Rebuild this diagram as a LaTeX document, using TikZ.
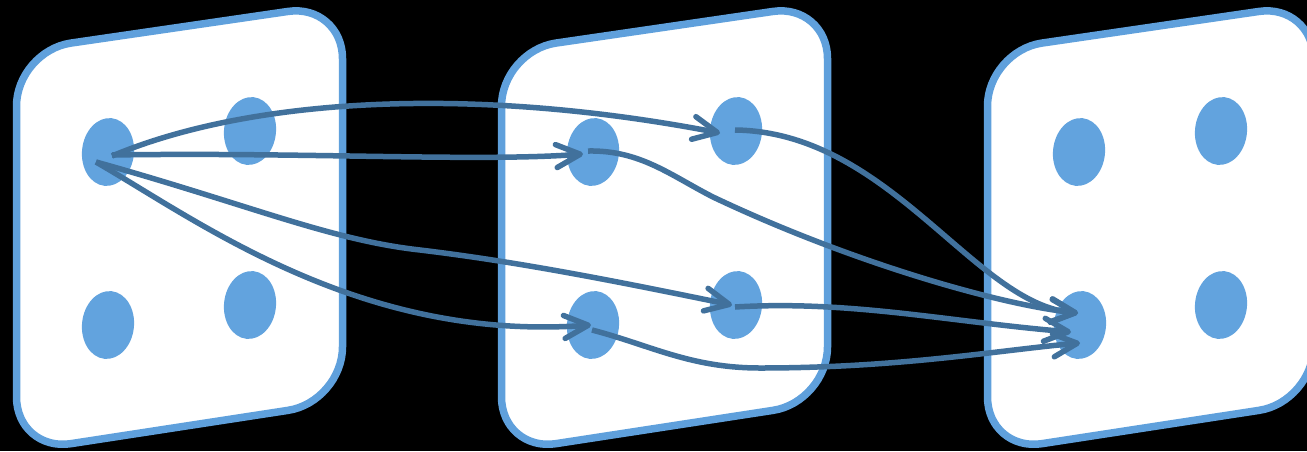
\documentclass[tikz,border=0pt]{standalone}
\usetikzlibrary{arrows.meta,shapes.geometric,calc}
\definecolor{panelblue}{HTML}{5FA0DC}
\definecolor{dotblue}{HTML}{62A3DE}
\definecolor{linkblue}{HTML}{41719C}
\begin{document}
\begin{tikzpicture}[x=1pt,y=-1pt,
  panel/.style={draw=panelblue, line width=7.5pt, fill=white, rounded corners=55pt},
  dot/.style={ellipse, fill=dotblue, minimum width=52pt, minimum height=68pt,
    inner sep=0pt, rotate=-6},
  link/.style={draw=linkblue, line width=5.5pt,
    -{Straight Barb[length=24pt,width=23pt,round]}}
]
\useasboundingbox (0,0) rectangle (1307,451);
\clip (0,0) rectangle (1307,451);
\fill[black] (0,0) rectangle (1307,451);

% three slanted panels
\foreach \dx in {0,485,971}{
  \draw[panel] (16.5+\dx,51) -- (342.5+\dx,3.5) -- (342.5+\dx,402)
    -- (16.5+\dx,452) -- cycle;
}

% states in each panel
\node[dot] (A1) at (108,152) {};
\node[dot] (A2) at (250,131) {};
\node[dot] (A3) at (108,325) {};
\node[dot] (A4) at (250,305) {};
\node[dot] (B1) at (593,152) {};
\node[dot] (B2) at (736,131) {};
\node[dot] (B3) at (593,325) {};
\node[dot] (B4) at (736,305) {};
\node[dot] (C1) at (1079,152) {};
\node[dot] (C2) at (1221,131) {};
\node[dot] (C3) at (1080,325) {};
\node[dot] (C4) at (1221,305) {};

% transitions from the first panel
\draw[link] ($(A1.center)+(4,4)$) .. controls (250,98) and (470,85)
  .. ($(B2.center)+(-16,2)$);
\draw[link] ($(A1.center)+(4,3)$) .. controls (300,152) and (480,162)
  .. ($(B1.center)+(-10,2)$);
\draw[link] ($(A1.center)+(-12,10)$) .. controls (250,205) and (330,240)
  .. (420,250) .. controls (520,262) and (620,282) .. ($(B4.center)+(-4,0)$);
\draw[link] ($(A1.center)+(-12,10)$) .. controls (200,222) and (360,342)
  .. ($(B3.center)+(-2,0)$);

% transitions from the second panel
\draw[link] ($(B2.center)+(-1,-1)$) .. controls (890,132) and (975,305)
  .. ($(C3.center)+(-2,-12)$);
\draw[link] ($(B1.center)+(-5,-1)$) .. controls (640,150) and (670,175)
  .. (713,197) .. controls (850,262) and (1000,305) .. ($(C3.center)+(-2,-12)$);
\draw[link] ($(B4.center)+(-1,2)$) .. controls (850,300) and (950,322)
  .. ($(C3.center)+(-9,7)$);
\draw[link] ($(B3.center)+(-1,5)$) .. controls (650,345) and (690,368)
  .. (760,368) .. controls (900,368) and (1000,350) .. ($(C3.center)+(0,18)$);
\end{tikzpicture}
\end{document}
